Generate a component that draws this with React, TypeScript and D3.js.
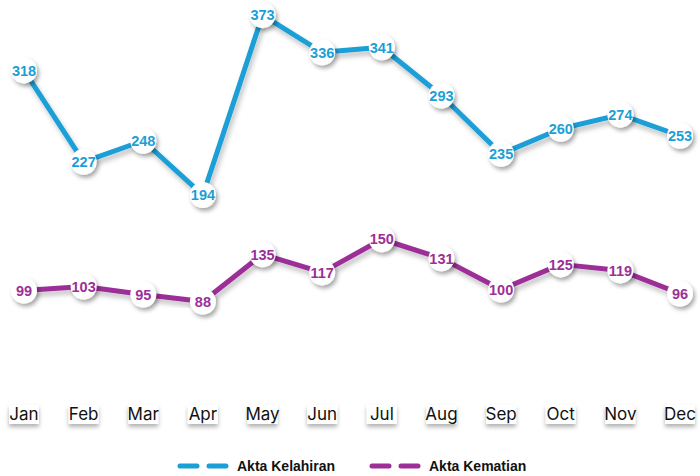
import React from "react";
import * as d3 from "d3";

const months = ["Jan", "Feb", "Mar", "Apr", "May", "Jun", "Jul", "Aug", "Sep", "Oct", "Nov", "Dec"];
const kelahiran = [318, 227, 248, 194, 373, 336, 341, 293, 235, 260, 274, 253];
const kematian = [99, 103, 95, 88, 135, 117, 150, 131, 100, 125, 119, 96];
const seriesNames = ["Akta Kelahiran", "Akta Kematian"];
const seriesColors = ["#1a9fd7", "#9c2f98"];

const W = 700;
const H = 476;

export default function App() {
  const x = d3.scalePoint<string>().domain(months).range([24, 680]);
  const y = d3.scaleLinear().domain([0, 400]).range([390, -12]);
  const line = d3
    .line<number>()
    .x((_, i) => x(months[i]) as number)
    .y((d) => y(d));
  const series = [kelahiran, kematian];

  return (
    <svg
      width={W}
      height={H}
      style={{ position: "absolute", left: 0, top: 0, background: "#fff" }}
      fontFamily="'Liberation Sans', Arial, sans-serif"
    >
      <defs>
        <filter id="sh" x="-50%" y="-50%" width="200%" height="200%">
          <feDropShadow dx="2" dy="3" stdDeviation="2.2" floodColor="#000" floodOpacity="0.35" />
        </filter>
        <filter id="shl" x="-10%" y="-10%" width="120%" height="120%">
          <feDropShadow dx="2" dy="4" stdDeviation="2.5" floodColor="#000" floodOpacity="0.25" />
        </filter>
        <filter id="shx" x="-30%" y="-30%" width="160%" height="180%">
          <feDropShadow dx="0" dy="3" stdDeviation="2" floodColor="#000" floodOpacity="0.3" />
        </filter>
      </defs>

      {series.map((s, si) => (
        <g key={si}>
          <path
            d={line(s) || ""}
            fill="none"
            stroke={seriesColors[si]}
            strokeWidth={5}
            strokeLinejoin="round"
            filter="url(#shl)"
          />
          {s.map((v, i) => (
            <g key={i} transform={`translate(${x(months[i])},${y(v)})`}>
              <circle r={13} fill="#fff" filter="url(#sh)" />
              <text
                textAnchor="middle"
                dy="0.36em"
                fontSize={14.5}
                fontWeight="bold"
                fill={seriesColors[si]}
              >
                {v}
              </text>
            </g>
          ))}
        </g>
      ))}

      {months.map((m) => (
        <g key={m} transform={`translate(${x(m)},420)`}>
          <rect x={-15} y={-15} width={30} height={19} fill="#fff" filter="url(#shx)" />
          <text textAnchor="middle" fontSize={17} fill="#111" fontFamily="Inter, 'Noto Sans', sans-serif">
            {m}
          </text>
        </g>
      ))}

      {seriesNames.map((n, i) => {
        const lx = i === 0 ? 180 : 372;
        return (
          <g key={n} transform={`translate(${lx},466)`}>
            <line x1={0} x2={53} y1={0} y2={0} stroke={seriesColors[i]} strokeWidth={5} strokeLinecap="round" strokeDasharray="17 12" />
            <text x={57} dy="0.35em" fontSize={14} fontWeight="bold" fill="#111" fontFamily="'Liberation Sans', Arial, sans-serif">
              {n}
            </text>
          </g>
        );
      })}
    </svg>
  );
}
